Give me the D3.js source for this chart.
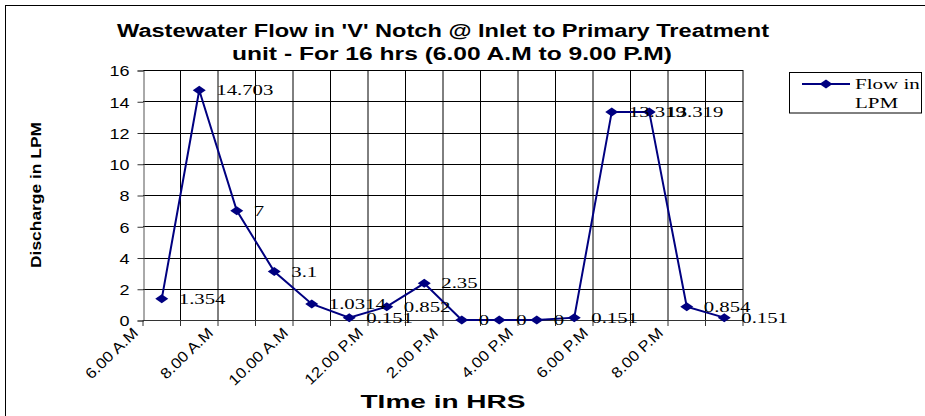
<!DOCTYPE html>
<html><head><meta charset="utf-8">
<script src="https://cdn.jsdelivr.net/npm/d3@7"></script>
<style>body{margin:0;background:#fff}svg{display:block}</style>
</head><body>
<svg id="c" width="925" height="416"></svg>
<script>
const categories = ["6.00 A.M","7.00 A.M","8.00 A.M","9.00 A.M","10.00 A.M","11.00 A.M","12.00 P.M","1.00 P.M","2.00 P.M","3.00 P.M","4.00 P.M","5.00 P.M","6.00 P.M","7.00 P.M","8.00 P.M","9.00 P.M"];
const flowLPM = [1.354,14.703,7,3.1,1.0314,0.151,0.852,2.35,0,0,0,0.151,13.319,13.319,0.854,0.151];
const valueLabels = ["1.354","14.703","7","3.1","1.0314","0.151","0.852","2.35","0","0","0","0.151","13.319","13.319","0.854","0.151"];
const yTicks = [0,2,4,6,8,10,12,14,16];
const shownCategories = ["6.00 A.M","8.00 A.M","10.00 A.M","12.00 P.M","2.00 P.M","4.00 P.M","6.00 P.M","8.00 P.M"];
const titleLines = ["Wastewater Flow in 'V' Notch @ Inlet to Primary Treatment","unit - For 16 hrs (6.00 A.M to 9.00 P.M)"];
const seriesName = ["Flow in","LPM"];

const svg = d3.select("#c");
const SANS = "'Liberation Sans', Arial, sans-serif";
const SERIF = "'Liberation Serif', 'Times New Roman', serif";
const NAVY = "#000080";

function stretch(sel, k){
  sel.each(function(){
    const w = this.getComputedTextLength();
    this.setAttribute("textLength", w*k);
    this.setAttribute("lengthAdjust","spacingAndGlyphs");
  });
}
function fitTo(sel, w){
  sel.attr("textLength", w).attr("lengthAdjust","spacingAndGlyphs");
}

// outer border
svg.append("rect").attr("x",5.5).attr("y",5.5).attr("width",940).attr("height",430)
  .attr("fill","none").attr("stroke","#000").attr("stroke-width",1);

const x = d3.scaleBand().domain(categories).range([143,743]).padding(0);
const y = d3.scaleLinear().domain([0,16]).range([320,70]);

// horizontal grid
svg.append("g").selectAll("line").data(yTicks).join("line")
  .attr("x1",143).attr("x2",743)
  .attr("y1",d=>Math.round(y(d))+0.5).attr("y2",d=>Math.round(y(d))+0.5)
  .attr("stroke","#000").attr("stroke-width",1);

// vertical grid at category boundaries
const bounds = categories.map(c=>x(c)).slice(1).concat([x.range()[1]]);
svg.append("g").selectAll("line").data(bounds).join("line")
  .attr("x1",d=>d).attr("x2",d=>d)
  .attr("y1",y(16)).attr("y2",y(0))
  .attr("stroke","#000").attr("stroke-width",1);

// y axis
const yAxis = d3.axisLeft(y).tickValues(yTicks).tickSize(6).tickPadding(8).tickFormat(d3.format("d"));
const gy = svg.append("g").attr("transform","translate(143.5,0.5)").call(yAxis);
gy.select(".domain").attr("stroke","#555");
gy.selectAll(".tick line").attr("stroke","#333");
gy.selectAll(".tick text").attr("font-family",SANS).attr("font-size",15).attr("fill","#000")
  .attr("dy","0.36em");
stretch(gy.selectAll(".tick text"), 1.2);

// x axis (ticks at boundaries)
const gx = svg.append("g");
gx.append("line").attr("x1",143).attr("x2",743).attr("y1",320.5).attr("y2",320.5).attr("stroke","#333");
gx.selectAll("line.t").data([x.range()[0]].concat(bounds)).join("line").attr("class","t")
  .attr("x1",d=>d).attr("x2",d=>d).attr("y1",320).attr("y2",326).attr("stroke","#333");
const xl = gx.selectAll("text").data(shownCategories).join("text")
  .attr("transform",d=>`translate(${x(d)-4},334) rotate(-44)`)
  .attr("text-anchor","end")
  .attr("font-family",SANS).attr("font-size",15).attr("fill","#000")
  .text(d=>d);
stretch(xl, 1.12);

// line
const line = d3.line().x((d,i)=>x(categories[i])+x.bandwidth()/2).y(d=>y(d));
svg.append("path").datum(flowLPM).attr("d",line)
  .attr("fill","none").attr("stroke",NAVY).attr("stroke-width",2);

const diamond = "M0,-4.5L6.5,0L0,4.5L-6.5,0Z";
svg.append("g").selectAll("path").data(flowLPM).join("path")
  .attr("transform",(d,i)=>`translate(${x(categories[i])+x.bandwidth()/2},${y(d)})`)
  .attr("d",diamond).attr("fill",NAVY);

// data labels
const dl = svg.append("g").selectAll("text").data(flowLPM).join("text")
  .attr("x",(d,i)=>x(categories[i])+x.bandwidth()/2+17)
  .attr("y",d=>y(d)+5)
  .attr("font-family",SERIF).attr("font-size",15.5).attr("fill","#000")
  .text((d,i)=>valueLabels[i]);
stretch(dl, 1.34);

// title
const tt = svg.append("g").selectAll("text").data(titleLines).join("text")
  .attr("x",(d,i)=>i===0?443:452).attr("y",(d,i)=>37+i*23)
  .attr("text-anchor","middle").attr("font-family",SANS).attr("font-weight","bold")
  .attr("font-size",18).attr("fill","#000").text(d=>d);
fitTo(tt.filter((d,i)=>i===0), 652);
fitTo(tt.filter((d,i)=>i===1), 440);

// axis titles
const yt = svg.append("text").attr("transform","translate(41,195) rotate(-90)")
  .attr("text-anchor","middle").attr("font-family",SANS).attr("font-weight","bold")
  .attr("font-size",15).attr("fill","#000").text("Discharge in LPM");
fitTo(yt, 146);
const xt = svg.append("text").attr("x",443).attr("y",408)
  .attr("text-anchor","middle").attr("font-family",SANS).attr("font-weight","bold")
  .attr("font-size",19).attr("fill","#000").text("TIme in HRS");
fitTo(xt, 165);

// legend
const lg = svg.append("g");
lg.append("rect").attr("x",789.5).attr("y",72.5).attr("width",132).attr("height",40.5)
  .attr("fill","#fff").attr("stroke","#000");
lg.append("line").attr("x1",802).attr("x2",850).attr("y1",84).attr("y2",84)
  .attr("stroke",NAVY).attr("stroke-width",2);
lg.append("path").attr("transform","translate(826,84)").attr("d",diamond).attr("fill",NAVY);
const lt = lg.selectAll("text").data(seriesName).join("text")
  .attr("x",855).attr("y",(d,i)=>89+i*19)
  .attr("font-family",SERIF).attr("font-size",15).attr("fill","#000").text(d=>d);
stretch(lt, 1.4);
</script>
</body></html>
